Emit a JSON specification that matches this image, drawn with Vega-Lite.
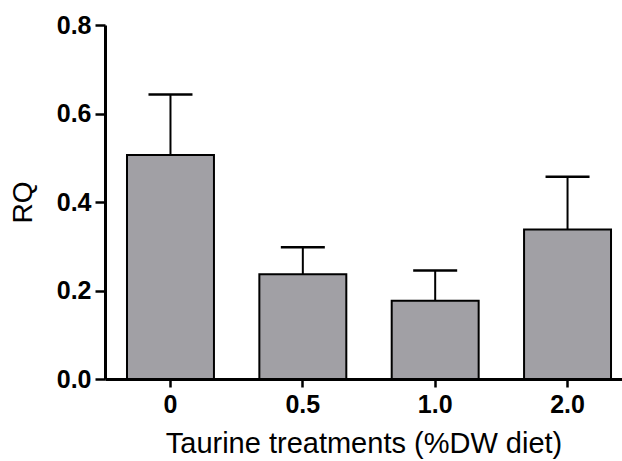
{
  "$schema": "https://vega.github.io/schema/vega-lite/v6.json",
  "width": 517,
  "height": 354,
  "autosize": {"type": "none"},
  "padding": {"left": 105, "top": 25, "right": 0, "bottom": 82},
  "background": "white",
  "config": {
    "view": {"stroke": null},
    "font": "Liberation Sans",
    "axis": {"labelFont": "Liberation Sans", "titleFont": "Liberation Sans", "labelColor": "black", "titleColor": "black", "domainColor": "black", "tickColor": "black", "grid": false}
  },
  "data": {
    "values": [
      {"treatment": "0", "rq": 0.506, "upper": 0.643},
      {"treatment": "0.5", "rq": 0.237, "upper": 0.298},
      {"treatment": "1.0", "rq": 0.177, "upper": 0.245},
      {"treatment": "2.0", "rq": 0.338, "upper": 0.457}
    ]
  },
  "encoding": {
    "x": {
      "field": "treatment",
      "type": "nominal",
      "sort": null,
      "scale": {"paddingInner": 0.343, "paddingOuter": 0.1246, "align": 0.667},
      "axis": {
        "title": "Taurine treatments (%DW diet)",
        "labelAngle": 0,
        "labelFontSize": 25,
        "labelFontWeight": "bold",
        "labelPadding": 5,
        "tickSize": 8,
        "tickWidth": 2.5,
        "domainWidth": 3,
        "titleFontSize": 29,
        "titleFontWeight": "normal",
        "titlePadding": 12
      }
    }
  },
  "layer": [
    {
      "mark": {"type": "rule", "color": "black", "strokeWidth": 2},
      "encoding": {
        "y": {"field": "rq", "type": "quantitative", "title": "RQ", "scale": {"domain": [0, 0.8]}},
        "y2": {"field": "upper"}
      }
    },
    {
      "mark": {"type": "tick", "color": "black", "thickness": 2.5, "size": 44, "opacity": 1},
      "encoding": {
        "y": {"field": "upper", "type": "quantitative", "title": "RQ", "scale": {"domain": [0, 0.8]}}
      }
    },
    {
      "mark": {"type": "bar", "fill": "#a1a0a5", "stroke": "black", "strokeWidth": 2},
      "encoding": {
        "y": {
          "field": "rq",
          "type": "quantitative",
          "title": "RQ",
          "scale": {"domain": [0, 0.8]},
          "axis": {
            "values": [0, 0.2, 0.4, 0.6, 0.8],
            "format": ".1f",
            "labelFontSize": 25,
            "labelFontWeight": "bold",
            "labelPadding": 4,
            "tickSize": 10,
            "tickWidth": 2.5,
            "domainWidth": 3,
            "titleFontSize": 28,
            "titleFontWeight": "normal",
            "titlePadding": 19
          }
        }
      }
    }
  ]
}
